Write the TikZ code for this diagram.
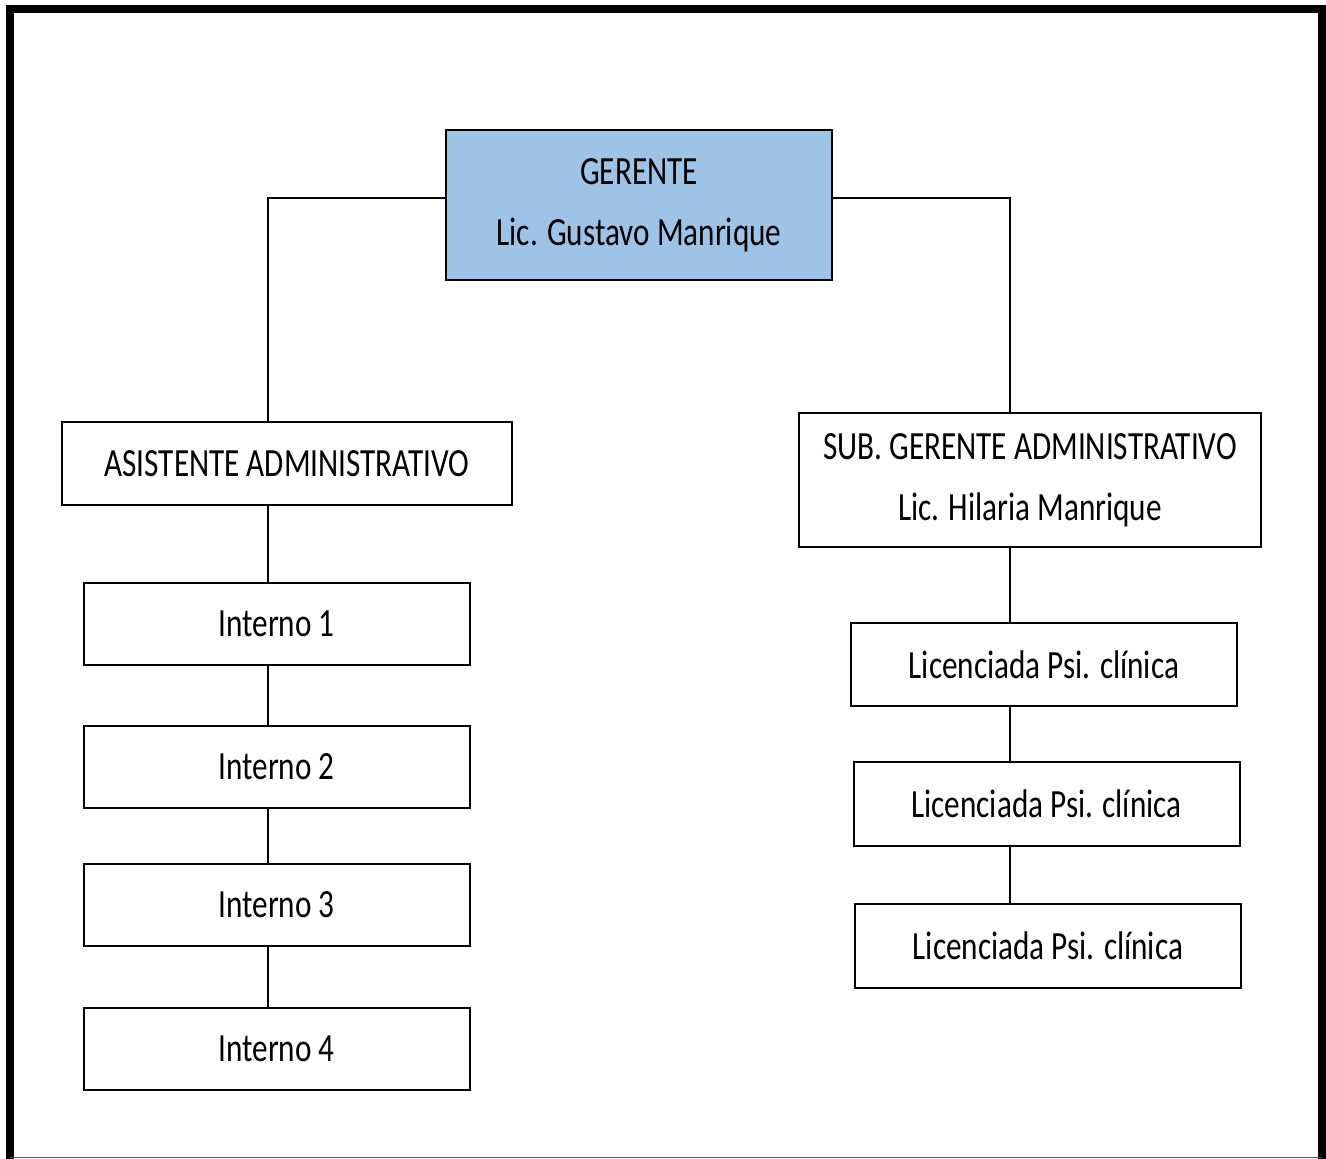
\documentclass[tikz,border=0pt]{standalone}
\usepackage{fontspec}
\setmainfont[FakeStretch=0.78]{Carlito}
\usepackage{tikz}
\usetikzlibrary{positioning,calc}
\definecolor{azul}{RGB}{157,195,230}
\tikzset{
 b/.style
  = {rectangle, draw, line width=2pt, inner sep=0pt, text centered,
     font=\fontsize{40}{61}\selectfont, align=center},
 bb/.style
  = {b, fill=azul},
 l/.style
  = {draw, line width=2pt},
 marco/.style
  = {draw, line width=8pt},
}
\begin{document}
\begin{tikzpicture}[x=1pt, y=-1pt]
    \useasboundingbox (0,0) rectangle (1326,1159);
    % marco exterior
    \draw [marco] (10,1159) -- (10,9) -- (1322,9) -- (1322,1159);
    \draw [gray!70!black, line width=1pt] (10,1157) -- (1322,1157);

    \node [bb, minimum width=386, minimum height=150] (gerente) at (639,205) {GERENTE\\ Lic. Gustavo Manrique};
    \node [b, minimum width=450, minimum height=83] (asistente) at (287,463.5) {ASISTENTE ADMINISTRATIVO};
    \node [b, minimum width=462, minimum height=134] (subgerente) at (1030,480) {SUB. GERENTE ADMINISTRATIVO\\ Lic. Hilaria Manrique};

    \node [b, minimum width=386, minimum height=82] (interno1) at (276.5,624) {Interno 1};
    \node [b, minimum width=386, minimum height=82] (interno2) at (276.5,766.5) {Interno 2};
    \node [b, minimum width=386, minimum height=82] (interno3) at (276.5,904.5) {Interno 3};
    \node [b, minimum width=386, minimum height=82] (interno4) at (276.5,1049) {Interno 4};

    \node [b, minimum width=386, minimum height=83] (lic1) at (1044,664.5) {Licenciada Psi. clínica};
    \node [b, minimum width=386, minimum height=84] (lic2) at (1046.5,804) {Licenciada Psi. clínica};
    \node [b, minimum width=386, minimum height=84] (lic3) at (1048,946) {Licenciada Psi. clínica};

    \coordinate (eje1) at (268,0);
    \coordinate (eje2) at (1010,0);

    \path [l] ([yshift=7pt]gerente.west) -| (asistente.north -| eje1);
    \path [l] ([yshift=7pt]gerente.east) -| (subgerente.north -| eje2);
    \path [l] (asistente.south -| eje1) -- (interno1.north -| eje1);
    \foreach \i/\j in {1/2,2/3,3/4}
      \path [l] (interno\i.south -| eje1) -- (interno\j.north -| eje1);
    \path [l] (subgerente.south -| eje2) -- (lic1.north -| eje2);
    \foreach \i/\j in {1/2,2/3}
      \path [l] (lic\i.south -| eje2) -- (lic\j.north -| eje2);
\end{tikzpicture}
\end{document}
